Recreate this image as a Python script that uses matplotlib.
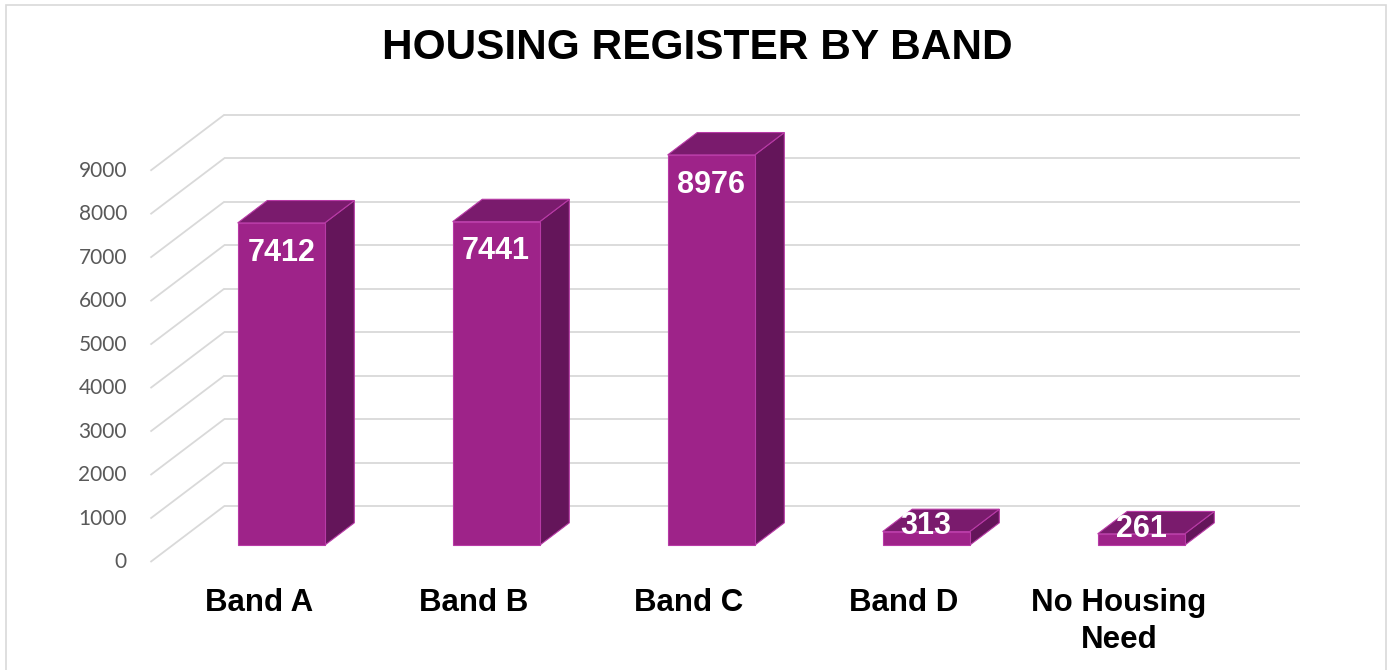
import matplotlib
matplotlib.use("Agg")
import matplotlib.pyplot as plt
from matplotlib.patches import Polygon, Rectangle

# ---- data ----
categories = ["Band A", "Band B", "Band C", "Band D", "No Housing\nNeed"]
counts = [7412, 7441, 8976, 313, 261]
y_ticks = list(range(0, 10000, 1000))

# ---- colours ----
FRONT = "#9E2389"
TOP = "#7A1B6D"
SIDE = "#64155A"
EDGE = "#B83AA6"
GRID = "#D9D9D9"

# fake 3D: oblique offset of the full floor depth (x in categories, y in values)
DX, DY = 0.344, 1288
D0, D1 = 0.3, 0.7      # bar occupies this slice of the depth
W = 0.405              # bar width

fig = plt.figure(figsize=(13.92, 6.70), dpi=100)
ax = fig.add_axes([0, 0, 1, 1])
ax.set_xlim(-1.2047, 5.2698)
ax.set_ylim(-2484, 12926)
ax.axis("off")

# chart border
fig.patches.append(Rectangle((6 / 1392, -0.05), 1380 / 1392, 1.05 - 5 / 670,
                             transform=fig.transFigure, fill=False,
                             edgecolor=GRID, lw=1.2))

# ---- gridlines: floor diagonal + back wall ----
x0, x1 = -0.505, 4.5
for v in y_ticks:
    ax.plot([x0, x0 + DX], [v, v + DY], color=GRID, lw=1.3, zorder=1,
            solid_capstyle="butt")
    ax.plot([x0 + DX, x1 + DX], [v + DY, v + DY], color=GRID, lw=1.3, zorder=1,
            solid_capstyle="butt")
    ax.text(-0.614, v, str(v), ha="right", va="center", fontsize=15,
            family="Lato", color="#595959")

# ---- bars ----
for i, (cat, val) in enumerate(zip(categories, counts)):
    fx = i + D0 * DX - W / 2
    fy = D0 * DY
    bx, by = DX * (D1 - D0), DY * (D1 - D0)
    front = [(fx, fy), (fx + W, fy), (fx + W, fy + val), (fx, fy + val)]
    top = [(fx, fy + val), (fx + W, fy + val), (fx + W + bx, fy + val + by),
           (fx + bx, fy + val + by)]
    side = [(fx + W, fy), (fx + W + bx, fy + by), (fx + W + bx, fy + val + by),
            (fx + W, fy + val)]
    for pts, col in ((side, SIDE), (top, TOP), (front, FRONT)):
        ax.add_patch(Polygon(pts, closed=True, facecolor=col, edgecolor=EDGE,
                             lw=0.8, zorder=3))

    # value label
    ly = fy + val - 680 if val > 2000 else fy + val + 120
    ax.text(i + D0 * DX, ly, str(val), ha="center", va="center", fontsize=22,
            fontweight="bold", family="Liberation Sans", color="white", zorder=5)

    # category label at the front edge of the floor
    ax.text(i, -590, cat, ha="center", va="top", fontsize=22.5, fontweight="bold",
            family="Liberation Sans", color="black", linespacing=1.32)

fig.text(697 / 1392, 1 - 48 / 670, "HOUSING REGISTER BY BAND", ha="center",
         va="center", fontsize=30.5, fontweight="bold", family="Liberation Sans")

fig.savefig("out.png", dpi=100)
